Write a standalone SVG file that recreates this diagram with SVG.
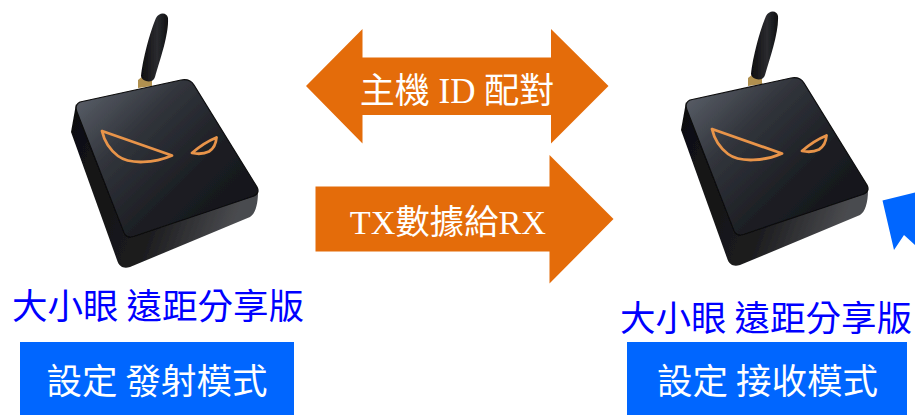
<svg xmlns="http://www.w3.org/2000/svg" width="915" height="415" viewBox="0 0 915 415">
<style>
.arrow{fill:#e46c0a}
.flat{fill:#0066ff}
text{font-family:"Liberation Serif","Noto Sans CJK TC",serif;text-anchor:middle}
.al{fill:#fff;font-size:35px}
.al2{fill:#fff;font-size:34.300px}
.lbl{fill:#0000ff;font-size:35.500px;font-family:"Noto Sans CJK TC","Liberation Sans",sans-serif;font-weight:400}
.btn{fill:#fff;font-size:35.500px;font-family:"Noto Sans CJK TC","Liberation Sans",sans-serif;font-weight:400}
.eye{fill:none;stroke:#e8944a;stroke-width:2.800;stroke-linejoin:round}
</style>
<defs>
<linearGradient id="face" x1="0.05" y1="0.1" x2="0.95" y2="0.9">
<stop offset="0" stop-color="#565b64"/><stop offset="0.3" stop-color="#31343b"/><stop offset="0.65" stop-color="#1c1e23"/><stop offset="1" stop-color="#121318"/>
</linearGradient>
<linearGradient id="side" x1="0" y1="0" x2="1" y2="0.3">
<stop offset="0" stop-color="#0e0e10"/><stop offset="0.6" stop-color="#1c1c1e"/><stop offset="1" stop-color="#4a4b4f"/>
</linearGradient>
<linearGradient id="ant" x1="0" y1="0" x2="1" y2="0">
<stop offset="0" stop-color="#0d0d0f"/><stop offset="0.6" stop-color="#2a2b2f"/><stop offset="1" stop-color="#0e0e10"/>
</linearGradient>
<filter id="soft" x="-5%" y="-5%" width="110%" height="110%"><feGaussianBlur stdDeviation="0.600"/></filter>
<g id="box" filter="url(#soft)">
<path d="M138 88 L138 80 L143 76 L152 80 L152 86 Z" fill="#b09050"/>
<path d="M141 76 C143 58 150 32 156 18 C159 12 167 12 168 18 C169 34 160 60 155 77 C153 84 142 82 141 76 Z" fill="url(#ant)"/>
<path d="M76 104 L71 132 L117 260 C119 267 124 269 130 267 L250 217 C255 214 258 205 258 192 L130 236 Z" fill="url(#side)"/>
<path d="M80 102 L181 80 C187 79 191 80 194 85 L257 187 C259 191 258 194 254 196 L135 236 C130 238 126 237 124 233 L77 112 C75 107 76 104 80 102 Z" fill="url(#face)" stroke="#0b0b0d" stroke-width="1.200"/>
<path class="eye" d="M102 131 L172 155.500 C155 163 130 165 118 156 C109 149 104 140 102 131 Z"/>
<path class="eye" d="M192 153 C200 146 208 141 216.500 137.500 C216 144 213 149 209 151.500 C204 154 197 154 192 153 Z"/>
</g>
</defs>
<g id="connectors">
<polygon class="arrow" points="306,86 362.500,29 362.500,57.500 551,57.500 551,29 608.500,86 551,143.500 551,115 362.500,115 362.500,143.500"/>
<polygon class="arrow" points="315.500,186.500 549.500,186.500 549.500,155 613.500,219 549.500,283.500 549.500,251.500 315.500,251.500"/>
<polygon class="flat" points="882.500,200.500 915,192.500 915,245 904,235 894,250"/>
<text class="al" x="457" y="103" xml:space="preserve">主機 ID 配對</text>
<text class="al2" x="448" y="234">TX數據給RX</text>
</g>
<g id="node-tx">
<use href="#box"/>
<text class="lbl" x="158" y="319">大小眼 遠距分享版</text>
<rect class="flat" x="20" y="342" width="274" height="73"/>
<text class="btn" x="157" y="394">設定 發射模式</text>
</g>
<g id="node-rx">
<use href="#box" transform="translate(610 -2)"/>
<text class="lbl" x="766" y="331">大小眼 遠距分享版</text>
<rect class="flat" x="627" y="342" width="280" height="73"/>
<text class="btn" x="767.500" y="394">設定 接收模式</text>
</g>
</svg>
